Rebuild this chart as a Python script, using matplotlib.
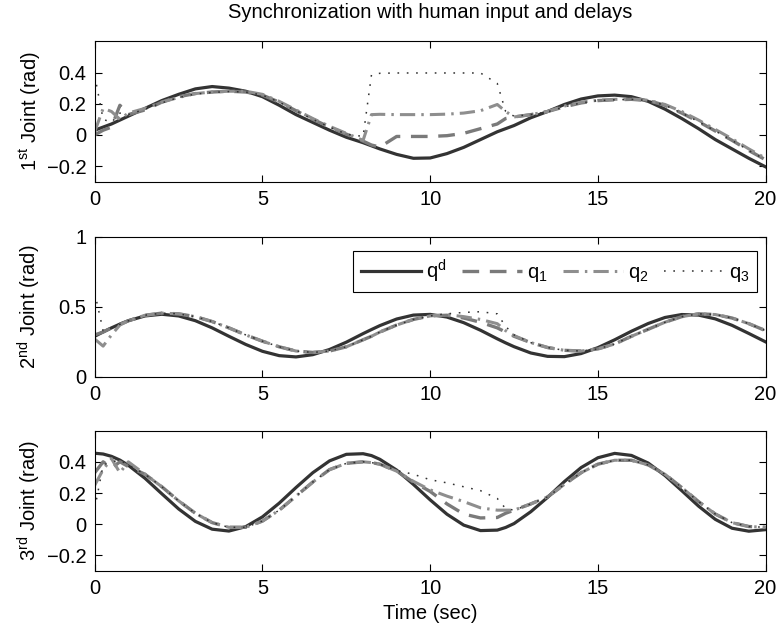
import matplotlib
matplotlib.use("Agg")
import matplotlib.pyplot as plt

plt.rcParams['font.family'] = ['Liberation Sans', 'DejaVu Sans']
plt.rcParams['mathtext.fontset'] = 'custom'
plt.rcParams['mathtext.rm'] = 'Liberation Sans'
plt.rcParams['mathtext.it'] = 'Liberation Sans:italic'
plt.rcParams['font.size'] = 14.5

# time samples (s)
t = [0, 0.25, 0.5, 0.75, 1, 1.5, 2, 2.5, 3, 3.5, 4, 4.5, 5, 5.5, 6, 6.5, 7, 7.5, 8,
     8.25, 8.5, 9, 9.5, 10, 10.5, 11, 11.5, 12, 12.25, 12.5, 13, 13.5, 14, 14.5, 15,
     15.5, 16, 16.5, 17, 17.5, 18, 18.5, 19, 19.5, 20]

# joint 1
j1_qd = [0.03, 0.05, 0.07, 0.095, 0.12, 0.17, 0.22, 0.26, 0.295, 0.31, 0.30, 0.28, 0.245,
         0.19, 0.13, 0.08, 0.03, -0.015, -0.05, -0.07, -0.09, -0.125, -0.15, -0.148, -0.12,
         -0.08, -0.03, 0.02, 0.04, 0.06, 0.11, 0.15, 0.195, 0.23, 0.25, 0.255, 0.245, 0.215,
         0.165, 0.105, 0.04, -0.03, -0.09, -0.15, -0.205]
j1_q1 = [0.0, 0.03, 0.05, 0.19, 0.13, 0.16, 0.21, 0.245, 0.265, 0.275, 0.28, 0.275, 0.255,
         0.21, 0.155, 0.10, 0.05, 0.005, -0.04, -0.065, -0.078, -0.01, -0.01, -0.01, -0.005,
         0.01, 0.04, 0.07, 0.105, 0.115, 0.13, 0.15, 0.18, 0.205, 0.22, 0.225, 0.228, 0.22,
         0.19, 0.14, 0.085, 0.025, -0.035, -0.10, -0.16]
j1_q2 = [0.02, 0.17, 0.15, 0.10, 0.14, 0.17, 0.21, 0.24, 0.265, 0.275, 0.28, 0.28, 0.26,
         0.215, 0.16, 0.105, 0.055, 0.01, -0.035, 0.13, 0.132, 0.13, 0.13, 0.13, 0.133,
         0.14, 0.155, 0.195, 0.15, 0.115, 0.13, 0.15, 0.185, 0.21, 0.222, 0.228, 0.23, 0.222,
         0.195, 0.15, 0.095, 0.035, -0.025, -0.09, -0.15]
j1_q3 = [0.38, 0.10, 0.08, 0.14, 0.13, 0.165, 0.205, 0.24, 0.262, 0.272, 0.278, 0.275, 0.255,
         0.21, 0.155, 0.10, 0.05, 0.005, -0.01, 0.385, 0.395, 0.397, 0.397, 0.397, 0.397,
         0.397, 0.397, 0.33, 0.15, 0.12, 0.13, 0.148, 0.18, 0.205, 0.22, 0.225, 0.228, 0.22,
         0.19, 0.14, 0.085, 0.025, -0.035, -0.10, -0.16]

# joint 2
j2_qd = [0.290, 0.321, 0.350, 0.377, 0.401, 0.435, 0.447, 0.435, 0.401, 0.350, 0.290, 0.232,
         0.183, 0.152, 0.143, 0.159, 0.196, 0.248, 0.309, 0.338, 0.366, 0.413, 0.441, 0.446,
         0.427, 0.387, 0.333, 0.272, 0.243, 0.216, 0.171, 0.147, 0.145, 0.167, 0.209, 0.265,
         0.326, 0.381, 0.424, 0.445, 0.441, 0.414, 0.368, 0.310, 0.250]
j2_q1 = [0.30, 0.32, 0.35, 0.375, 0.40, 0.44, 0.455, 0.45, 0.43, 0.395, 0.35, 0.30, 0.255,
         0.215, 0.185, 0.175, 0.185, 0.215, 0.265, 0.29, 0.32, 0.37, 0.41, 0.435, 0.44,
         0.42, 0.39, 0.35, 0.32, 0.29, 0.245, 0.21, 0.19, 0.185, 0.20, 0.235, 0.29, 0.34,
         0.39, 0.43, 0.45, 0.445, 0.42, 0.38, 0.33]
j2_q2 = [0.27, 0.22, 0.30, 0.37, 0.40, 0.44, 0.455, 0.45, 0.43, 0.395, 0.35, 0.30, 0.255,
         0.215, 0.185, 0.175, 0.185, 0.215, 0.265, 0.29, 0.32, 0.37, 0.41, 0.435, 0.445,
         0.43, 0.41, 0.38, 0.33, 0.295, 0.245, 0.21, 0.19, 0.185, 0.20, 0.235, 0.29, 0.34,
         0.39, 0.43, 0.45, 0.445, 0.42, 0.38, 0.33]
j2_q3 = [0.60, 0.33, 0.35, 0.375, 0.40, 0.44, 0.455, 0.45, 0.43, 0.395, 0.35, 0.30, 0.255,
         0.215, 0.185, 0.175, 0.185, 0.215, 0.265, 0.29, 0.32, 0.37, 0.41, 0.435, 0.45,
         0.46, 0.465, 0.45, 0.36, 0.30, 0.245, 0.21, 0.19, 0.185, 0.20, 0.235, 0.29, 0.34,
         0.39, 0.43, 0.45, 0.445, 0.42, 0.38, 0.33]

# joint 3
j3_qd = [0.455, 0.450, 0.435, 0.411, 0.378, 0.294, 0.195, 0.098, 0.018, -0.032, -0.044,
         -0.016, 0.047, 0.135, 0.235, 0.330, 0.406, 0.448, 0.452, 0.440, 0.416, 0.347, 0.255,
         0.156, 0.064, -0.006, -0.041, -0.038, -0.021, 0.004, 0.080, 0.172, 0.273, 0.363,
         0.426, 0.454, 0.441, 0.392, 0.312, 0.215, 0.116, 0.031, -0.026, -0.045, -0.035]
j3_q1 = [0.33, 0.40, 0.36, 0.40, 0.37, 0.32, 0.24, 0.15, 0.07, 0.01, -0.02, -0.02, 0.02,
         0.09, 0.18, 0.27, 0.35, 0.39, 0.40, 0.395, 0.385, 0.34, 0.27, 0.21, 0.13, 0.065,
         0.04, 0.043, 0.07, 0.09, 0.13, 0.175, 0.255, 0.33, 0.385, 0.41, 0.41, 0.38, 0.32,
         0.235, 0.145, 0.065, 0.01, -0.015, -0.02]
j3_q2 = [0.25, 0.35, 0.42, 0.33, 0.40, 0.32, 0.24, 0.15, 0.07, 0.01, -0.02, -0.02, 0.02,
         0.09, 0.18, 0.27, 0.35, 0.39, 0.40, 0.395, 0.385, 0.34, 0.275, 0.22, 0.18, 0.145,
         0.105, 0.09, 0.09, 0.09, 0.13, 0.175, 0.255, 0.33, 0.385, 0.41, 0.41, 0.38, 0.32,
         0.235, 0.145, 0.065, 0.01, -0.015, -0.02]
j3_q3 = [0.10, 0.38, 0.40, 0.41, 0.38, 0.32, 0.24, 0.15, 0.07, 0.01, -0.02, -0.02, 0.02,
         0.09, 0.18, 0.27, 0.35, 0.39, 0.40, 0.395, 0.385, 0.345, 0.32, 0.285, 0.265, 0.24,
         0.215, 0.165, 0.10, 0.09, 0.13, 0.175, 0.255, 0.33, 0.385, 0.41, 0.41, 0.38, 0.32,
         0.235, 0.145, 0.065, 0.01, -0.015, -0.02]

series_names = [r'q$^{\mathrm{d}}$', r'q$_{\mathrm{1}}$', r'q$_{\mathrm{2}}$', r'q$_{\mathrm{3}}$']
joints = [[j1_qd, j1_q1, j1_q2, j1_q3],
          [j2_qd, j2_q1, j2_q2, j2_q3],
          [j3_qd, j3_q1, j3_q2, j3_q3]]
ylabels = [r'1$^{\mathrm{st}}$ Joint (rad)', r'2$^{\mathrm{nd}}$ Joint (rad)',
           r'3$^{\mathrm{rd}}$ Joint (rad)']
xticks = [0, 5, 10, 15, 20]
yticks = [[-0.2, 0, 0.2, 0.4], [0, 0.5, 1], [-0.2, 0, 0.2, 0.4]]
yticklabels = [['\u22120.2', '0', '0.2', '0.4'], ['0', '0.5', '1'], ['\u22120.2', '0', '0.2', '0.4']]
ylims = [(-0.3, 0.6), (0, 1), (-0.3, 0.6)]

styles = [dict(color='#333333', lw=2.3, ls='-'),
          dict(color='#7a7a7a', lw=2.4, ls=(0, (5, 3.2))),
          dict(color='#8e8e8e', lw=2.2, ls=(0, (5, 2, 0.8, 2))),
          dict(color='#333333', lw=1.1, ls=(0, (1.1, 5)))]

fig = plt.figure(figsize=(7.81, 6.28), dpi=100)
bottoms = [0.7107, 0.3997, 0.0908]
axes = []
for i in range(3):
    ax = fig.add_axes([0.1213, bottoms[i], 0.859, 0.2235])
    for s, ys in enumerate(joints[i]):
        ax.plot(t, ys, label=series_names[s], **styles[s])
    ax.set_xlim(0, 20)
    ax.set_ylim(*ylims[i])
    ax.set_xticks(xticks)
    ax.set_xticklabels([str(x) for x in xticks])
    ax.set_yticks(yticks[i])
    ax.set_yticklabels(yticklabels[i])
    ax.tick_params(direction='in', top=True, right=True, length=5, width=0.8, pad=6)
    for sp in ax.spines.values():
        sp.set_linewidth(0.8)
    ax.set_ylabel(ylabels[i])
    ax.yaxis.set_label_coords(-0.077, 0.5)
    axes.append(ax)

axes[2].set_xlabel('Time (sec)', labelpad=4)
fig.text(0.5507, 1 - 12 / 628, 'Synchronization with human input and delays',
         ha='center', va='center')

leg = axes[1].legend(loc='upper right', bbox_to_anchor=(0.987, 0.90), ncol=4,
                     handlelength=3.0, handletextpad=0.25, columnspacing=0.75,
                     borderaxespad=0, borderpad=0.35, fancybox=False, framealpha=1)
leg.get_frame().set_edgecolor('black')
leg.get_frame().set_linewidth(0.8)

fig.savefig('out.png', dpi=100)
